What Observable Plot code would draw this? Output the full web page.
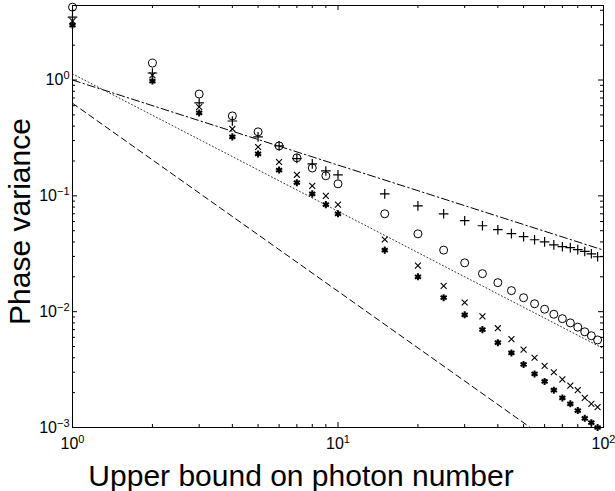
<!DOCTYPE html>
<html>
<head>
<meta charset="utf-8">
<script src="https://cdn.jsdelivr.net/npm/d3@7"></script>
<script src="https://cdn.jsdelivr.net/npm/@observablehq/plot@0.6"></script>
<style>
  html, body { margin: 0; padding: 0; background: #fff; }
  #chart svg { display: block; }
</style>
</head>
<body>
<div id="chart"></div>
<script>
// ---- data ----
const photonN = [1,2,3,4,5,6,7,8,9,10,15,20,25,30,35,40,45,50,55,60,65,70,75,80,85,90,95];
const circleVals = [4.26,1.40,0.757,0.49,0.357,0.27,0.213,0.174,0.149,0.127,0.070,0.047,0.034,
  0.0264,0.0213,0.0178,0.0152,0.0132,0.0117,0.0105,0.0095,0.0087,0.0080,0.00735,0.0067,0.0062,0.0057];
const plusVals = [3.49,1.15,0.634,0.443,0.323,0.27,0.21,0.189,0.164,0.152,0.104,0.082,0.070,
  0.0610,0.0552,0.0510,0.0472,0.0444,0.0418,0.0401,0.0377,0.0364,0.0357,0.0343,0.0331,0.0316,0.0298];
const timesVals = [3.23,1.10,0.585,0.378,0.264,0.196,0.152,0.122,0.100,0.084,0.042,0.025,0.0167,
  0.0120,0.0091,0.0072,0.0058,0.0047,0.0040,0.0034,0.0030,0.0026,0.0023,0.0021,0.0018,0.0016,0.0015];
const asteriskVals = [2.98,0.98,0.52,0.323,0.23,0.167,0.13,0.104,0.084,0.070,0.034,0.020,0.0132,
  0.0094,0.0070,0.0054,0.0044,0.0035,0.0029,0.0025,0.0021,0.0018,0.0016,0.0014,0.0012,0.0011,0.0010];

const dashedX = [1, 53],  dashedY = [0.63, 0.001];
const dashDotX = [1, 100], dashDotY = [1.0, 0.034];
const dottedX = [1, 100], dottedY = [1.13, 0.0048];

const xMajor = [1, 10, 100];
const xMinor = [2,3,4,5,6,7,8,9,20,30,40,50,60,70,80,90];
const yMajor = [0.001, 0.01, 0.1, 1];
const yMinor = [0.002,0.003,0.004,0.005,0.006,0.007,0.008,0.009,
  0.02,0.03,0.04,0.05,0.06,0.07,0.08,0.09,0.2,0.3,0.4,0.5,0.6,0.7,0.8,0.9,2,3,4];

const xTitle = "Upper bound on photon number";
const yTitle = "Phase variance";

// ---- layout ----
const W = 615, H = 491, mL = 72, mR = 12, mT = 5, mB = 64;
const fw = W - mL - mR, fh = H - mT - mB;
const majLen = 5, minLen = 3;

const pts = vals => photonN.map((n, i) => ({n, v: vals[i]}));
const seg = (xs, ys) => xs.map((x, i) => ({n: x, v: ys[i]}));
const fmt = d => "10^" + Math.round(Math.log10(d));

const plot = Plot.plot({
  width: W, height: H,
  marginLeft: mL, marginRight: mR, marginTop: mT, marginBottom: mB,
  style: {fontFamily: "'Liberation Sans', Arial, Helvetica, sans-serif", fontSize: "16px", color: "black", background: "white"},
  x: {type: "log", domain: [1, 100], ticks: xMajor, tickFormat: fmt, tickSize: 0, tickPadding: 10, label: null},
  y: {type: "log", domain: [0.001, 4.4], ticks: yMajor, tickFormat: fmt, tickSize: 0, tickPadding: 3, label: null},
  marks: [
    // inward ticks on all four sides
    Plot.tickY(yMajor, {y: d => d, insetRight: fw - majLen, stroke: "black"}),
    Plot.tickY(yMinor, {y: d => d, insetRight: fw - minLen, stroke: "black"}),
    Plot.tickY(yMajor, {y: d => d, insetLeft: fw - majLen, stroke: "black"}),
    Plot.tickY(yMinor, {y: d => d, insetLeft: fw - minLen, stroke: "black"}),
    Plot.tickX(xMajor, {x: d => d, insetTop: fh - majLen, stroke: "black"}),
    Plot.tickX(xMinor, {x: d => d, insetTop: fh - minLen, stroke: "black"}),
    Plot.tickX(xMajor, {x: d => d, insetBottom: fh - majLen, stroke: "black"}),
    Plot.tickX(xMinor, {x: d => d, insetBottom: fh - minLen, stroke: "black"}),
    // reference lines
    Plot.line(seg(dashedX, dashedY), {x: "n", y: "v", stroke: "black", strokeWidth: 1, strokeDasharray: "6,4"}),
    Plot.line(seg(dashDotX, dashDotY), {x: "n", y: "v", stroke: "black", strokeWidth: 1, strokeDasharray: "8,3,1.5,3"}),
    Plot.line(seg(dottedX, dottedY), {x: "n", y: "v", stroke: "#333", strokeWidth: 1, strokeDasharray: "1,2.5"}),
    // data markers
    Plot.dot(pts(circleVals), {x: "n", y: "v", symbol: "circle", r: 4, stroke: "black", fill: "none", strokeWidth: 1}),
    Plot.dot(pts(plusVals), {x: "n", y: "v", symbol: "plus", r: 3.2, stroke: "black", strokeWidth: 1.2}),
    Plot.dot(pts(timesVals), {x: "n", y: "v", symbol: "times", r: 2.8, stroke: "black", strokeWidth: 1.1}),
    Plot.dot(pts(asteriskVals), {x: "n", y: "v", symbol: "asterisk", r: 3.3, stroke: "black", strokeWidth: 2}),
    Plot.frame({stroke: "black", strokeWidth: 1}),
    // axis titles
    Plot.text([yTitle], {text: d => d, frameAnchor: "left", dx: -52, dy: 5, rotate: -90, fontSize: 30, textAnchor: "middle", lineAnchor: "middle", fill: "black"}),
    Plot.text([xTitle], {text: d => d, frameAnchor: "bottom", dx: -37, dy: 49, fontSize: 30, textAnchor: "middle", lineAnchor: "middle", fill: "black"})
  ]
});

// render "10^k" tick labels as 10 with a superscript exponent
const ns = "http://www.w3.org/2000/svg";
plot.querySelectorAll("text").forEach(t => {
  const m = t.textContent.match(/^10\^(-?\d+)$/);
  if (m) {
    t.textContent = "10";
    const ts = document.createElementNS(ns, "tspan");
    ts.setAttribute("dy", "-0.55em");
    ts.setAttribute("font-size", "11");
    ts.textContent = m[1].replace("-", "\u2212");
    t.appendChild(ts);
  }
});

document.getElementById("chart").appendChild(plot);
</script>
</body>
</html>
